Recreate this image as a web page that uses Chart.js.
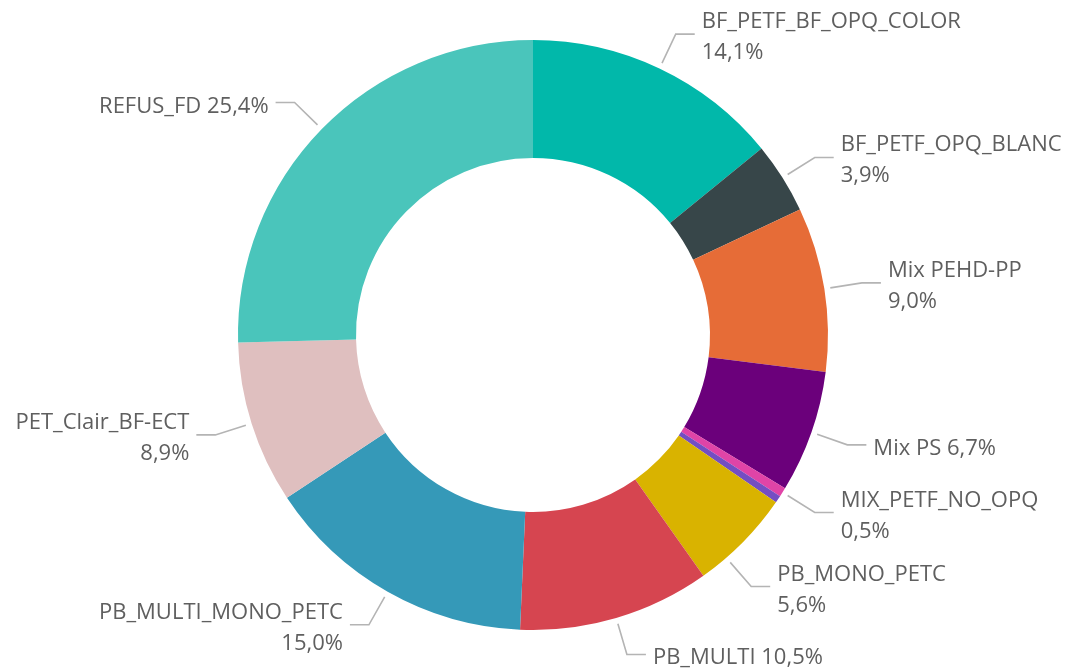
<!DOCTYPE html>
<html>
<head>
<meta charset="utf-8">
<script src="https://cdn.jsdelivr.net/npm/chart.js@4.4.1/dist/chart.umd.min.js"></script>
<style>
  body { margin: 0; background: #fff; }
  canvas { display: block; }
</style>
</head>
<body>
<canvas id="myDonut" width="1072" height="669"></canvas>
<script>
  const categories = [
    'BF_PETF_BF_OPQ_COLOR', 'BF_PETF_OPQ_BLANC', 'Mix PEHD-PP', 'Mix PS',
    'MIX_PETF_NO_OPQ', 'Autres', 'PB_MONO_PETC', 'PB_MULTI',
    'PB_MULTI_MONO_PETC', 'PET_Clair_BF-ECT', 'REFUS_FD'
  ];
  const shares = [14.1, 3.9, 9.0, 6.7, 0.5, 0.4, 5.6, 10.5, 15.0, 8.9, 25.4];
  const colors = [
    '#01B8AA', '#374649', '#E66C37', '#6B007B',
    '#E044A7', '#744EC2', '#D9B300', '#D64550',
    '#3599B8', '#DFBFBF', '#4AC5BB'
  ];
  // labels shown on one line, the rest wrap the value under the name
  const oneLine = ['Mix PS', 'PB_MULTI', 'REFUS_FD'];
  const hidden = ['Autres'];

  const total = shares.reduce((a, b) => a + b, 0);
  const fmt = v => (v / total * 100).toFixed(1).replace('.', ',') + '%';

  const leaderLabels = {
    id: 'leaderLabels',
    afterDraw(chart) {
      const ctx = chart.ctx;
      const meta = chart.getDatasetMeta(0);
      const rLine = 6, rElbow = 38, hLen = 19, gap = 7;
      const items = [];
      meta.data.forEach((arc, i) => {
        const name = categories[i];
        if (hidden.includes(name)) return;
        const p = arc.getProps(['x', 'y', 'startAngle', 'endAngle', 'outerRadius'], true);
        const mid = (p.startAngle + p.endAngle) / 2;
        const single = oneLine.includes(name);
        const R = p.outerRadius;
        items.push({
          i, name, single, cx: p.x, cy: p.y, R,
          angle: mid,
          right: Math.cos(mid) >= 0,
          ey: p.y + (R + rElbow) * Math.sin(mid),
          up: single ? 10 : 22,
          down: single ? 12 : 32
        });
      });

      // push labels down on each side so they don't overlap
      [true, false].forEach(side => {
        const list = items.filter(it => it.right === side).sort((a, b) => a.ey - b.ey);
        for (let k = 1; k < list.length; k++) {
          const prev = list[k - 1], cur = list[k];
          const minY = prev.ey + prev.down + 20 + cur.up;
          if (cur.ey < minY) {
            cur.ey = minY;
            const s = Math.asin(Math.min(1, (cur.ey - cur.cy) / (cur.R + rElbow)));
            cur.angle = side ? s : Math.PI - s;
          }
        }
      });

      ctx.save();
      ctx.font = '22px "Open Sans", sans-serif';
      ctx.fillStyle = '#5f5f5f';
      ctx.strokeStyle = '#b4b4b4';
      ctx.lineWidth = 1.6;
      items.forEach(it => {
        const c = Math.cos(it.angle), s = Math.sin(it.angle);
        const x0 = it.cx + (it.R + rLine) * c, y0 = it.cy + (it.R + rLine) * s;
        const x1 = it.cx + (it.R + rElbow) * c, y1 = it.cy + (it.R + rElbow) * s;
        const dir = it.right ? 1 : -1;
        const x2 = x1 + dir * hLen;
        ctx.beginPath();
        ctx.moveTo(x0, y0);
        ctx.lineTo(x1, y1);
        ctx.lineTo(x2, y1);
        ctx.stroke();

        const tx = x2 + dir * gap;
        ctx.textAlign = it.right ? 'left' : 'right';
        ctx.textBaseline = 'alphabetic';
        const val = fmt(shares[it.i]);
        if (it.single) {
          ctx.fillText(it.name + ' ' + val, tx, y1 + 10);
        } else {
          ctx.fillText(it.name, tx, y1 - 6);
          ctx.fillText(val, tx, y1 + 25);
        }
      });
      ctx.restore();
    }
  };

  const myDonut = new Chart(document.getElementById('myDonut'), {
    type: 'doughnut',
    data: {
      labels: categories,
      datasets: [{
        data: shares,
        backgroundColor: colors,
        borderWidth: 0
      }]
    },
    options: {
      responsive: false,
      animation: false,
      cutout: '60%',
      events: [],
      layout: {
        padding: { top: 40, bottom: 39, left: 0, right: 6 }
      },
      plugins: {
        legend: { display: false },
        tooltip: { enabled: false }
      }
    },
    plugins: [leaderLabels]
  });
</script>
</body>
</html>
